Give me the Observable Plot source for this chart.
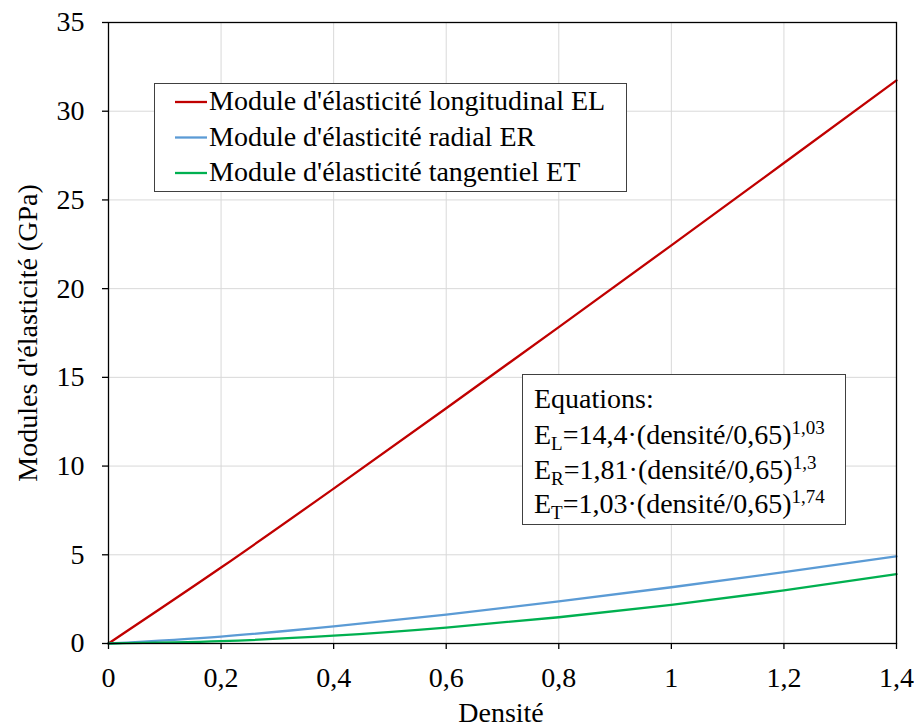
<!DOCTYPE html>
<html><head><meta charset="utf-8">
<script src="https://cdn.jsdelivr.net/npm/d3@7"></script>
<script src="https://cdn.jsdelivr.net/npm/@observablehq/plot@0.6"></script>
<style>
body{margin:0;background:#fff;}
#chart{position:relative;width:914px;height:725px;}
svg text{font-family:"Liberation Serif","Times New Roman",serif;}
</style></head>
<body><div id="chart"></div>
<script>
const densite = [0, 0.2, 0.4, 0.6, 0.8, 1.0, 1.2, 1.4];
const EL = [0, 4.28, 8.73, 13.26, 17.83, 22.44, 27.08, 31.74];
const ER = [0, 0.39, 0.96, 1.63, 2.37, 3.17, 4.02, 4.91];
const ET = [0, 0.13, 0.44, 0.90, 1.48, 2.18, 2.99, 3.91];
const seriesNames = ["Module d'élasticité longitudinal EL", "Module d'élasticité radial ER", "Module d'élasticité tangentiel ET"];
const seriesColors = ["#C00000", "#5B9BD5", "#00B050"];
const xTicks = [0, 0.2, 0.4, 0.6, 0.8, 1.0, 1.2, 1.4];
const yTicks = [0, 5, 10, 15, 20, 25, 30, 35];
const xTitle = "Densité";
const yTitle = "Modules d'élasticité (GPa)";
const eqTitle = "Equations:";
const eqSubs = ["L", "R", "T"];
const eqBodies = ["=14,4·(densité/0,65)", "=1,81·(densité/0,65)", "=1,03·(densité/0,65)"];
const eqExps = ["1,03", "1,3", "1,74"];

const allSeries = [EL, ER, ET];
const data = [];
allSeries.forEach((vals, s) => vals.forEach((v, i) => data.push({x: densite[i], y: v, s: seriesNames[s]})));

const fmt = d => String(d).replace(".", ",");
const FS = 28;
const plot = Plot.plot({
  width: 914, height: 725,
  marginLeft: 108, marginRight: 18, marginTop: 22, marginBottom: 82,
  style: {fontFamily: "Liberation Serif, serif", fontSize: FS + "px", color: "#000", background: "#fff"},
  x: {domain: [0, 1.4], ticks: xTicks, tickFormat: fmt},
  y: {domain: [0, 35], ticks: yTicks, tickFormat: fmt},
  color: {domain: seriesNames, range: seriesColors},
  marks: [
    Plot.gridX(xTicks, {stroke: "#d9d9d9", strokeOpacity: 1, strokeWidth: 1}),
    Plot.gridY(yTicks, {stroke: "#d9d9d9", strokeOpacity: 1, strokeWidth: 1}),
    Plot.line(data, {x: "x", y: "y", z: "s", stroke: "s", strokeWidth: 2.3, curve: "monotone-x"}),
    Plot.frame({stroke: "#000", strokeWidth: 1.3}),
    Plot.axisX(xTicks, {tickSize: 6, tickPadding: 18, tickFormat: fmt, label: null, fontSize: FS}),
    Plot.axisY(yTicks, {tickSize: 6, tickPadding: 18, tickFormat: fmt, label: null, fontSize: FS})
  ]
});
document.getElementById("chart").appendChild(plot);

const svg = d3.select(plot);
svg.selectAll("[aria-label='x-axis tick'], [aria-label='y-axis tick']").attr("stroke", "#000").attr("stroke-width", 1.3);

// Axis titles
svg.append("text").attr("x", 501).attr("y", 722).attr("text-anchor", "middle")
  .attr("font-size", FS).attr("fill", "#000").text(xTitle);
svg.append("text").attr("transform", "translate(37,333) rotate(-90)").attr("text-anchor", "middle")
  .attr("font-size", FS).attr("fill", "#000").text(yTitle);

// Legend
const lg = svg.append("g").attr("text-anchor", "start");
lg.append("rect").attr("x", 154.5).attr("y", 83.5).attr("width", 472).attr("height", 108)
  .attr("fill", "#fff").attr("stroke", "#404040").attr("stroke-width", 1);
seriesNames.forEach((n, i) => {
  const cy = 102 + i * 35.5;
  lg.append("line").attr("x1", 175).attr("x2", 207).attr("y1", cy).attr("y2", cy)
    .attr("stroke", seriesColors[i]).attr("stroke-width", 2.3);
  lg.append("text").attr("x", 209).attr("y", cy + 8).attr("font-size", FS).attr("fill", "#000").text(n);
});

// Equations box
const eq = svg.append("g").attr("text-anchor", "start");
eq.append("rect").attr("x", 522.5).attr("y", 374.5).attr("width", 323).attr("height", 150)
  .attr("fill", "#fff").attr("stroke", "#404040").attr("stroke-width", 1);
eq.append("text").attr("x", 534).attr("y", 408).attr("font-size", FS).attr("fill", "#000").text(eqTitle);
eqSubs.forEach((sub, i) => {
  const t = eq.append("text").attr("x", 534).attr("y", 444 + i * 34.5).attr("font-size", FS).attr("fill", "#000");
  t.append("tspan").text("E");
  t.append("tspan").attr("font-size", 19).attr("dy", 6).text(sub);
  t.append("tspan").attr("dy", -6).text(eqBodies[i]);
  t.append("tspan").attr("font-size", 19).attr("dy", -10).text(eqExps[i]);
});
</script></body></html>
